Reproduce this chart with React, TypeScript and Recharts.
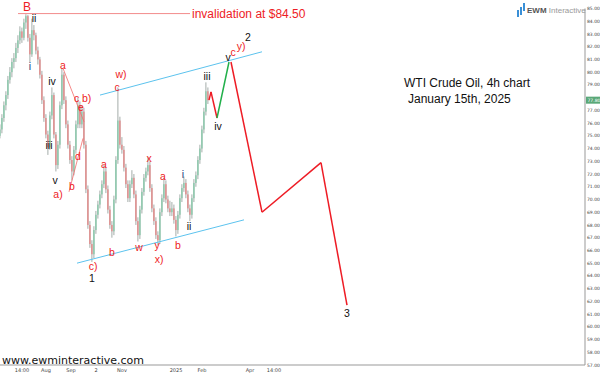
import React from 'react';
import { ComposedChart, Bar, XAxis, YAxis, ReferenceLine, ReferenceDot } from 'recharts';

// [open, high, low, close] per 4h-bar group
const ohlc: number[][] = [
  [75.0, 75.9, 74.8, 75.5], [75.5, 76.7, 75.2, 76.4], [76.4, 77.7, 76.1, 77.4], [77.4, 78.5, 77.0, 78.2],
  [78.2, 79.7, 77.9, 79.4], [79.4, 80.4, 79.1, 80.0], [80.0, 81.1, 79.6, 80.8], [80.8, 81.5, 80.3, 81.1],
  [81.1, 82.3, 80.8, 81.9], [81.9, 82.9, 81.5, 82.5], [82.5, 83.6, 82.2, 83.2], [83.2, 83.5, 82.3, 82.7],
  [82.7, 84.2, 82.5, 83.9], [83.9, 84.55, 83.4, 84.4], [84.4, 84.5, 82.4, 82.7], [82.7, 83.0, 80.8, 81.4],
  [81.4, 84.2, 81.2, 83.3], [83.3, 83.7, 82.5, 82.9], [82.9, 83.1, 81.4, 81.7], [81.7, 82.0, 80.6, 81.0],
  [81.0, 81.2, 79.5, 79.8], [79.8, 80.1, 77.5, 77.8], [77.8, 78.1, 76.1, 76.4], [76.4, 76.7, 74.8, 75.1],
  [75.1, 75.4, 73.5, 74.1], [74.1, 76.9, 73.9, 76.6], [76.6, 78.8, 76.3, 78.2], [78.2, 78.4, 74.8, 75.1],
  [75.1, 75.3, 72.2, 72.7], [72.7, 74.6, 72.4, 74.3], [74.3, 77.7, 74.0, 77.4], [77.4, 80.3, 77.1, 79.8],
  [79.8, 80.0, 77.5, 77.8], [77.8, 78.1, 75.6, 75.9], [75.9, 76.2, 74.0, 74.3], [74.3, 74.6, 72.8, 73.1],
  [73.1, 73.4, 71.5, 72.2], [72.2, 74.2, 71.9, 73.9], [73.9, 76.2, 73.6, 75.9], [75.9, 78.0, 75.6, 77.4],
  [77.4, 77.7, 75.6, 75.9], [75.9, 77.4, 75.6, 76.9], [76.9, 77.2, 74.0, 74.3], [74.3, 74.6, 70.5, 70.8],
  [70.8, 71.1, 67.7, 68.0], [68.0, 68.3, 66.2, 66.5], [66.5, 66.8, 65.1, 65.7], [65.7, 67.9, 65.4, 67.6],
  [67.6, 69.1, 67.3, 68.8], [68.8, 69.9, 68.5, 69.6], [69.6, 70.7, 69.3, 70.4], [70.4, 71.5, 70.1, 71.2],
  [71.2, 72.7, 70.9, 72.2], [72.2, 72.5, 70.5, 70.8], [70.8, 71.1, 68.9, 69.2], [69.2, 69.5, 67.7, 68.0],
  [68.0, 68.3, 67.0, 67.5], [67.5, 70.3, 67.2, 70.0], [70.0, 73.4, 69.7, 73.1], [73.1, 78.8, 72.8, 76.2],
  [76.2, 76.5, 74.0, 74.3], [74.3, 74.9, 73.6, 73.9], [73.9, 74.2, 72.2, 72.5], [72.5, 72.8, 70.9, 71.2],
  [71.2, 71.5, 69.8, 70.1], [70.1, 71.5, 69.8, 71.2], [71.2, 72.3, 70.9, 71.7], [71.7, 72.0, 70.1, 70.4],
  [70.4, 70.7, 68.0, 68.3], [68.3, 68.6, 66.7, 67.2], [67.2, 69.5, 66.9, 69.2], [69.2, 70.9, 68.9, 70.6],
  [70.6, 72.0, 70.3, 71.7], [71.7, 72.5, 71.4, 72.2], [72.2, 73.3, 71.9, 72.7], [72.7, 73.0, 70.6, 70.9],
  [70.9, 71.2, 69.0, 69.3], [69.3, 69.6, 68.0, 68.3], [68.3, 68.6, 66.9, 67.2], [67.2, 67.5, 66.4, 66.8],
  [66.8, 69.3, 66.5, 69.0], [69.0, 70.4, 68.7, 70.1], [70.1, 71.7, 69.8, 71.2], [71.2, 71.5, 69.7, 70.0],
  [70.0, 70.3, 69.0, 69.3], [69.3, 69.9, 68.7, 69.0], [69.0, 69.8, 68.7, 69.3], [69.3, 69.6, 68.1, 68.4],
  [68.4, 68.7, 67.1, 67.6], [67.6, 69.1, 67.3, 68.8], [68.8, 70.4, 68.5, 70.1], [70.1, 71.2, 69.8, 70.9],
  [70.9, 71.8, 70.6, 71.3], [71.3, 71.6, 70.1, 70.4], [70.4, 70.7, 69.0, 69.3], [69.3, 69.6, 68.3, 68.8],
  [68.8, 70.4, 68.5, 70.1], [70.1, 71.6, 69.8, 71.3], [71.3, 72.2, 71.0, 71.9], [71.9, 73.4, 71.6, 73.1],
  [73.1, 74.3, 72.8, 74.0], [74.0, 75.8, 73.7, 75.5], [75.5, 77.2, 75.2, 76.9], [76.9, 79.2, 76.6, 78.5],
  [78.5, 78.8, 77.5, 77.8],
];

// 78.00 is hidden under the last-price tag in the reference
const priceTicks = [57, 58, 59, 60, 61, 62, 63, 64, 65, 66, 67, 68, 69, 70, 71, 72, 73, 74, 75, 76, 77, 79, 80, 81, 82, 83, 84, 85];
const timeTickPositions = [11, 23, 35.5, 48, 61, 88, 101, 125, 137];
const timeTickLabels = ['14:00', 'Aug', 'Sep', '2', 'Nov', '2025', 'Feb', 'Apr', '14:00'];

const lastPrice = 77.8;
const invalidationLevel = 84.6;

// projection path points [time, price]
const projRedA = [[104.5, 77.8], [105.5, 78.45], [108.5, 76.4]];
const projGreen = [[108.5, 76.4], [114.5, 80.8]];
const projRedB = [[115.5, 80.8], [131, 69.0], [160.5, 72.9], [173.5, 61.7]];
const channelUpper = [[50, 78.2], [131, 81.6]];
const channelLower = [[38.5, 65.0], [122, 68.4]];
const triangleA = [[31.5, 80.3], [42, 76.1]];
const triangleB = [[34.5, 70.6], [41.5, 74.8]];
const invalidationSpan = [[9, invalidationLevel], [95, invalidationLevel]];

const RED = '#ee1c25';
const BLK = '#111111';
const NAVY = '#1f3a7a';

// wave labels [time, price, text, colour]
const waveLabels: [number, number, string, string][] = [
  [13.5, 85.12, 'B', RED], [17, 84.25, 'ii', BLK], [15, 80.5, 'i', NAVY], [26, 79.3, 'iv', BLK],
  [24.5, 74.3, 'iii', BLK], [27.5, 71.55, 'v', BLK], [29, 70.45, 'a)', RED], [31.5, 80.57, 'a', RED],
  [38.3, 77.98, 'c', RED], [43.3, 77.98, 'b)', RED], [40.5, 77.27, 'e', RED], [39, 73.43, 'd', RED],
  [36, 71.08, 'b', RED], [46.5, 64.8, 'c)', RED], [46, 63.85, '1', BLK], [52, 72.8, 'a', RED],
  [56, 65.9, 'b', RED], [60.5, 79.85, 'w)', RED], [58.5, 78.8, 'c', RED], [74.5, 73.27, 'x', RED],
  [69.5, 66.3, 'w', RED], [81.5, 71.86, 'a', RED], [78.5, 66.45, 'y', RED], [79.5, 65.35, 'x)', RED],
  [89, 66.45, 'b', RED], [91.5, 72.0, 'i', NAVY], [94.5, 67.94, 'ii', BLK], [103.5, 79.7, 'iii', BLK],
  [109, 75.8, 'iv', BLK], [114, 81.2, 'v', BLK], [116.5, 81.6, 'c', RED], [120.5, 82.06, 'y)', RED],
  [124, 82.76, '2', BLK], [173.5, 61.1, '3', BLK],
];

const candles = ohlc.map((r, i) => ({ t: i, open: r[0], high: r[1], low: r[2], close: r[3], range: [r[2], r[1]] }));

const Candle = (props: any) => {
  const { x, y, width, height, payload } = props;
  if (!payload || height == null || isNaN(y)) return null;
  const top = Math.min(y, y + height);
  const h = Math.abs(height);
  const { open, high, low, close } = payload;
  const span = high - low || 1;
  const k = h / span;
  const yO = top + (high - open) * k;
  const yC = top + (high - close) * k;
  const up = close >= open;
  const cx = x + width / 2;
  return (
    <g>
      <line x1={cx} x2={cx} y1={top} y2={top + h} stroke="#7d8a84" strokeWidth={0.7} />
      <rect x={cx - 0.75} y={Math.min(yO, yC)} width={1.5} height={Math.max(Math.abs(yC - yO), 0.7)}
        fill={up ? '#86c9a8' : '#e48686'} fillOpacity={0.9} />
    </g>
  );
};

const segs = (pts: number[][]) => pts.slice(1).map((p, i) => [pts[i], p]);

const pathLines = (pts: number[][], color: string, w: number, key: string) =>
  segs(pts).map((s, i) => (
    <ReferenceLine key={key + i} segment={[{ x: s[0][0], y: s[0][1] }, { x: s[1][0], y: s[1][1] }]}
      stroke={color} strokeWidth={w} ifOverflow="visible" />
  ));

const PriceTag = (props: any) => {
  const vb = props.viewBox || {};
  const xr = (vb.x || 0) + (vb.width || 0);
  const yy = vb.y || 0;
  return (
    <g>
      <rect x={xr + 1} y={yy - 3.5} width={14} height={7} fill="#5aa878" />
      <text x={xr + 2.5} y={yy + 0.3} fontSize={4.5} fill="#ffffff" dominantBaseline="middle" fontFamily="DejaVu Sans">
        {lastPrice.toFixed(2)}
      </text>
    </g>
  );
};

export default function App() {
  return (
    <div style={{ position: 'absolute', left: 0, top: 0, width: 600, height: 376, background: '#fff', overflow: 'hidden' }}>
      <ComposedChart width={600} height={376} data={candles} margin={{ top: 8.5, right: 0, left: 0, bottom: 0 }}
        style={{ fontFamily: 'DejaVu Sans' }}>
        <XAxis dataKey="t" type="number" domain={[0, 292.5]} allowDataOverflow ticks={timeTickPositions}
          tickFormatter={(v: number) => timeTickLabels[timeTickPositions.indexOf(v)] ?? ''}
          height={11} tickLine={false} axisLine={{ stroke: '#999' }} tickSize={2} tickMargin={1}
          tick={{ fontSize: 5, fill: '#444' }} interval={0} />
        <YAxis orientation="right" domain={[57, 85]} ticks={priceTicks} allowDataOverflow width={15}
          tickFormatter={(v: number) => v.toFixed(2)} tickLine={false} axisLine={{ stroke: '#999' }}
          tickSize={1} tickMargin={1} tick={{ fontSize: 4.5, fill: '#444' }} interval={0} />
        <Bar dataKey="range" barSize={2} shape={<Candle />} isAnimationActive={false} />
        {pathLines(invalidationSpan, '#f28b8b', 1, 'inv')}
        {pathLines(channelUpper, '#5cc3ee', 1, 'cu')}
        {pathLines(channelLower, '#5cc3ee', 1, 'cl')}
        {pathLines(triangleA, '#f26b6b', 0.8, 'ta')}
        {pathLines(triangleB, '#f26b6b', 0.8, 'tb')}
        {pathLines(projRedA, '#ee1c25', 1.5, 'pa')}
        {pathLines(projGreen, '#22b04b', 1.5, 'pg')}
        {pathLines(projRedB, '#ee1c25', 1.5, 'pb')}
        <ReferenceLine y={lastPrice} stroke="none" label={<PriceTag />} ifOverflow="visible" />
        {waveLabels.map((l, i) => (
          <ReferenceDot key={'w' + i} x={l[0]} y={l[1]} r={0} ifOverflow="visible"
            shape={(p: any) => (
              <text x={p.cx} y={p.cy} fill={l[3]} fontSize={l[2] === 'B' ? 12 : 10.5} textAnchor="middle"
                dominantBaseline="central" fontFamily="Liberation Sans, Arial, sans-serif">{l[2]}</text>
            )} />
        ))}
      </ComposedChart>
      <div style={{ position: 'absolute', left: 192, top: 6, fontFamily: 'Liberation Sans, Arial, sans-serif', fontSize: 12, lineHeight: '16px', color: RED, whiteSpace: 'nowrap' }}>
        invalidation at $84.50
      </div>
      <div style={{ position: 'absolute', left: 404, top: 75, fontFamily: 'Liberation Sans, Arial, sans-serif', fontSize: 12, lineHeight: '16px', color: '#111', whiteSpace: 'nowrap' }}>
        WTI Crude Oil, 4h chart
      </div>
      <div style={{ position: 'absolute', left: 408, top: 91, fontFamily: 'Liberation Sans, Arial, sans-serif', fontSize: 12, lineHeight: '16px', color: '#111', whiteSpace: 'nowrap' }}>
        January 15th, 2025
      </div>
      <div style={{ position: 'absolute', left: 2, top: 353, fontFamily: 'DejaVu Sans, sans-serif', fontSize: 11, lineHeight: '16px', color: '#111', whiteSpace: 'nowrap' }}>
        www.ewminteractive.com
      </div>
      <div style={{ position: 'absolute', left: 517, top: 10, width: 1.5, height: 7, background: '#3a8fd6' }} />
      <div style={{ position: 'absolute', left: 520, top: 7, width: 1.5, height: 8, background: '#3a8fd6' }} />
      <div style={{ position: 'absolute', left: 523, top: 3, width: 1.5, height: 8, background: '#3a8fd6' }} />
      <div style={{ position: 'absolute', left: 527, top: 4.5, fontFamily: 'Liberation Sans, Arial, sans-serif', fontSize: 8, lineHeight: '12px', color: '#666', whiteSpace: 'nowrap' }}>
        <b style={{ color: '#555' }}>EWM</b> <span style={{ color: '#999' }}>Interactive</span>
      </div>
    </div>
  );
}
